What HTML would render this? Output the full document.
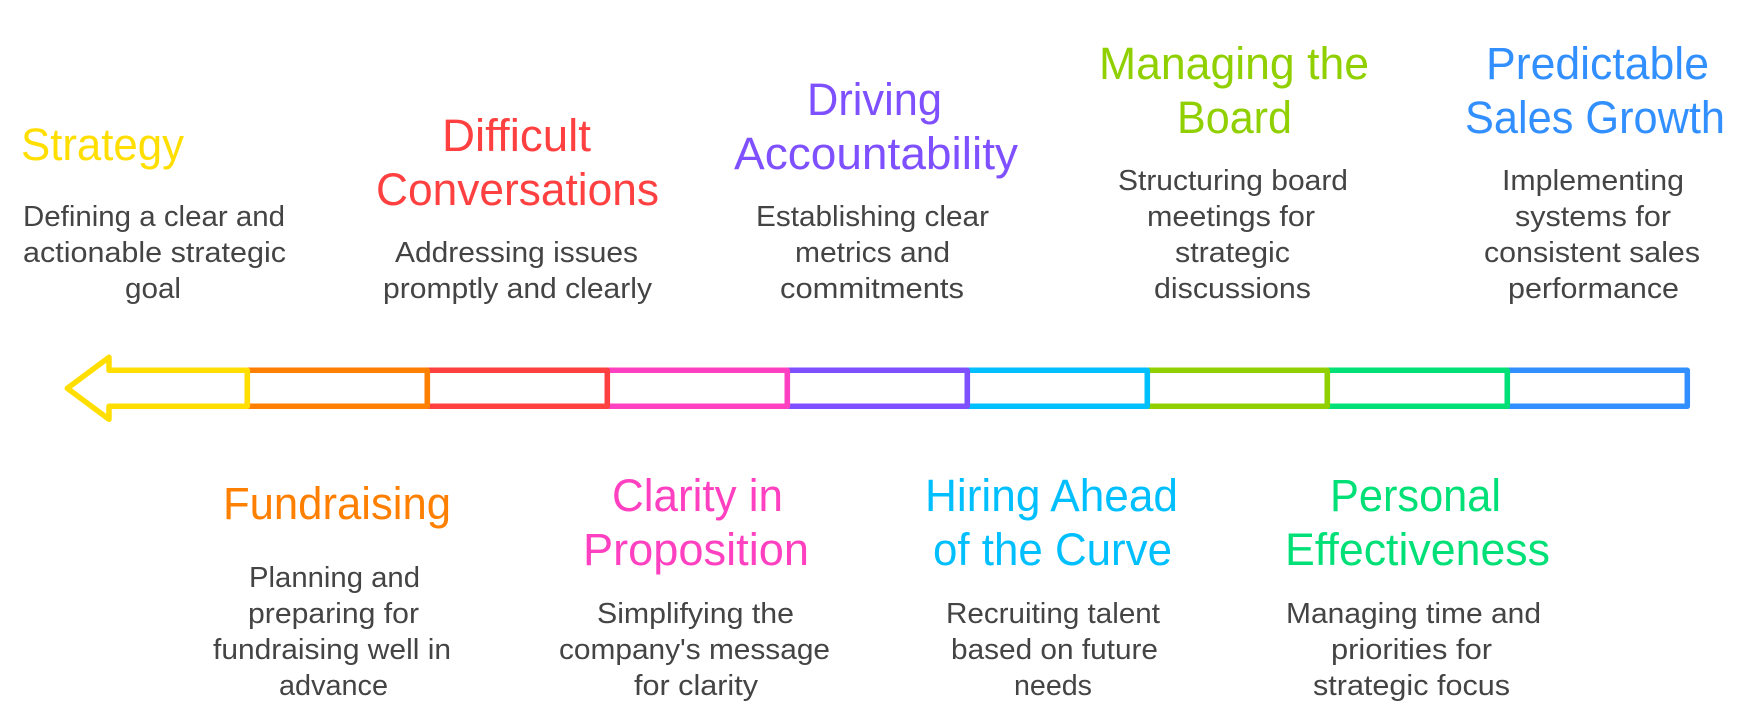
<!DOCTYPE html>
<html lang="en">
<head>
<meta charset="utf-8">
<title>Strategic timeline</title>
<style>
html,body{margin:0;padding:0;background:#fff;width:1737px;height:721px;overflow:hidden}
svg{display:block;filter:blur(.35px)}
text{font-family:"Liberation Sans",Arial,sans-serif}
.t{font-size:45px}
.b{font-size:29px;fill:#444}
</style>
</head>
<body>
<svg width="1737" height="721" viewBox="0 0 1737 721" xmlns="http://www.w3.org/2000/svg">
<g fill="none" stroke-width="5.5" stroke-linejoin="round">
<rect x="1507.3" y="370.3" width="180" height="36" stroke="#318fff"/>
<rect x="1327.3" y="370.3" width="180" height="36" stroke="#00e077"/>
<rect x="1147.3" y="370.3" width="180" height="36" stroke="#90d000"/>
<rect x="967.3" y="370.3" width="180" height="36" stroke="#00bfff"/>
<rect x="787.3" y="370.3" width="180" height="36" stroke="#7f50ff"/>
<rect x="607.3" y="370.3" width="180" height="36" stroke="#ff40c0"/>
<rect x="427.3" y="370.3" width="180" height="36" stroke="#ff4040"/>
<rect x="247.3" y="370.3" width="180" height="36" stroke="#ff7f00"/>
<path d="M247.3 370.3H109V357.3L67.3 388.3L109 419.3V406.3H247.3Z" stroke="#ffde00"/>
</g>

<text class="t" fill="#ffde00" x="21" y="160" textLength="163" lengthAdjust="spacingAndGlyphs">Strategy</text>
<text class="b" x="23" y="226" textLength="262" lengthAdjust="spacingAndGlyphs">Defining a clear and</text>
<text class="b" x="23" y="262" textLength="263" lengthAdjust="spacingAndGlyphs">actionable strategic</text>
<text class="b" x="125" y="298" textLength="56" lengthAdjust="spacingAndGlyphs">goal</text>

<text class="t" fill="#ff4040" x="442" y="151" textLength="149" lengthAdjust="spacingAndGlyphs">Difficult</text>
<text class="t" fill="#ff4040" x="376" y="205" textLength="283" lengthAdjust="spacingAndGlyphs">Conversations</text>
<text class="b" x="395" y="262" textLength="243" lengthAdjust="spacingAndGlyphs">Addressing issues</text>
<text class="b" x="383" y="298" textLength="269" lengthAdjust="spacingAndGlyphs">promptly and clearly</text>

<text class="t" fill="#7f50ff" x="807" y="115" textLength="135" lengthAdjust="spacingAndGlyphs">Driving</text>
<text class="t" fill="#7f50ff" x="734" y="169" textLength="284" lengthAdjust="spacingAndGlyphs">Accountability</text>
<text class="b" x="756" y="226" textLength="233" lengthAdjust="spacingAndGlyphs">Establishing clear</text>
<text class="b" x="795" y="262" textLength="155" lengthAdjust="spacingAndGlyphs">metrics and</text>
<text class="b" x="780" y="298" textLength="184" lengthAdjust="spacingAndGlyphs">commitments</text>

<text class="t" fill="#90d000" x="1099" y="79" textLength="270" lengthAdjust="spacingAndGlyphs">Managing the</text>
<text class="t" fill="#90d000" x="1177" y="133" textLength="115" lengthAdjust="spacingAndGlyphs">Board</text>
<text class="b" x="1118" y="190" textLength="230" lengthAdjust="spacingAndGlyphs">Structuring board</text>
<text class="b" x="1147" y="226" textLength="168" lengthAdjust="spacingAndGlyphs">meetings for</text>
<text class="b" x="1175" y="262" textLength="115" lengthAdjust="spacingAndGlyphs">strategic</text>
<text class="b" x="1154" y="298" textLength="157" lengthAdjust="spacingAndGlyphs">discussions</text>

<text class="t" fill="#318fff" x="1486" y="79" textLength="223" lengthAdjust="spacingAndGlyphs">Predictable</text>
<text class="t" fill="#318fff" x="1465" y="133" textLength="260" lengthAdjust="spacingAndGlyphs">Sales Growth</text>
<text class="b" x="1502" y="190" textLength="182" lengthAdjust="spacingAndGlyphs">Implementing</text>
<text class="b" x="1515" y="226" textLength="156" lengthAdjust="spacingAndGlyphs">systems for</text>
<text class="b" x="1484" y="262" textLength="216" lengthAdjust="spacingAndGlyphs">consistent sales</text>
<text class="b" x="1508" y="298" textLength="171" lengthAdjust="spacingAndGlyphs">performance</text>

<text class="t" fill="#ff7f00" x="223" y="519" textLength="228" lengthAdjust="spacingAndGlyphs">Fundraising</text>
<text class="b" x="249" y="587" textLength="171" lengthAdjust="spacingAndGlyphs">Planning and</text>
<text class="b" x="248" y="623" textLength="171" lengthAdjust="spacingAndGlyphs">preparing for</text>
<text class="b" x="213" y="659" textLength="238" lengthAdjust="spacingAndGlyphs">fundraising well in</text>
<text class="b" x="279" y="695" textLength="109" lengthAdjust="spacingAndGlyphs">advance</text>

<text class="t" fill="#ff40c0" x="612" y="511" textLength="171" lengthAdjust="spacingAndGlyphs">Clarity in</text>
<text class="t" fill="#ff40c0" x="583" y="565" textLength="226" lengthAdjust="spacingAndGlyphs">Proposition</text>
<text class="b" x="597" y="623" textLength="197" lengthAdjust="spacingAndGlyphs">Simplifying the</text>
<text class="b" x="559" y="659" textLength="271" lengthAdjust="spacingAndGlyphs">company's message</text>
<text class="b" x="634" y="695" textLength="124" lengthAdjust="spacingAndGlyphs">for clarity</text>

<text class="t" fill="#00bfff" x="925" y="511" textLength="253" lengthAdjust="spacingAndGlyphs">Hiring Ahead</text>
<text class="t" fill="#00bfff" x="933" y="565" textLength="239" lengthAdjust="spacingAndGlyphs">of the Curve</text>
<text class="b" x="946" y="623" textLength="214" lengthAdjust="spacingAndGlyphs">Recruiting talent</text>
<text class="b" x="951" y="659" textLength="207" lengthAdjust="spacingAndGlyphs">based on future</text>
<text class="b" x="1014" y="695" textLength="78" lengthAdjust="spacingAndGlyphs">needs</text>

<text class="t" fill="#00e077" x="1330" y="511" textLength="171" lengthAdjust="spacingAndGlyphs">Personal</text>
<text class="t" fill="#00e077" x="1285" y="565" textLength="265" lengthAdjust="spacingAndGlyphs">Effectiveness</text>
<text class="b" x="1286" y="623" textLength="255" lengthAdjust="spacingAndGlyphs">Managing time and</text>
<text class="b" x="1331" y="659" textLength="161" lengthAdjust="spacingAndGlyphs">priorities for</text>
<text class="b" x="1313" y="695" textLength="197" lengthAdjust="spacingAndGlyphs">strategic focus</text>
</svg>
</body>
</html>
